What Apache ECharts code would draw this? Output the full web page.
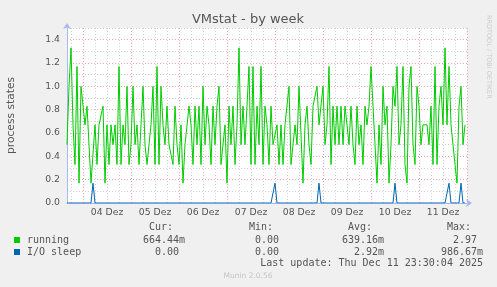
<!DOCTYPE html>
<html><head><meta charset="utf-8">
<script src="https://cdn.jsdelivr.net/npm/echarts@6/dist/echarts.min.js"></script>
<style>html,body{margin:0;padding:0;background:#f0f0f0}#c{width:497px;height:287px}</style>
</head><body><div id="c"></div>
<script>
// ---- data ----
const chartTitle = 'VMstat - by week';
const yAxisName = 'process states';
const monthName = 'Dez';
const startDay = 3;      // Dec 3
const startHour = 16;    // 16:00
const hourCount = 201;   // hourly slots to Dec 12 00:00
// running (hourly)
const running = [
  0.5, 1.0, 1.33, 0.67, 0.33, 1.17, 0.17, 1.0, 1.0, 0.67,
  0.83, 0.83, 0.17, 0.17, 0.67, 0.33, 0.67, 0.67, 0.83, 0.17,
  0.67, 0.33, 0.67, 0.5, 0.67, 0.33, 1.17, 0.33, 0.67, 0.5,
  1.0, 0.33, 0.5, 1.0, 0.5, 0.67, 0.33, 0.67, 1.0, 0.5,
  0.33, 0.5, 0.67, 1.0, 0.33, 1.17, 0.33, 1.0, 0.67, 0.5,
  0.83, 0.5, 0.5, 0.33, 0.83, 0.5, 0.33, 0.67, 0.17, 0.5,
  0.5, 0.83, 0.67, 0.33, 0.83, 0.5, 0.83, 0.33, 1.0, 0.5,
  0.83, 0.67, 0.33, 0.83, 0.5, 0.83, 1.0, 0.33, 0.5, 0.67,
  0.17, 0.83, 0.5, 0.83, 0.33, 0.67, 1.33, 0.5, 0.83, 0.5,
  0.83, 1.17, 0.33, 1.17, 0.33, 0.83, 0.5, 1.17, 0.33, 0.83,
  0.67, 0.33, 0.83, 0.5, 0.5, 0.67, 0.33, 0.67, 0.33, 0.67,
  0.67, 1.0, 0.33, 0.33, 0.67, 0.5, 1.0, 1.0, 0.17, 0.67,
  0.83, 0.5, 0.33, 0.83, 0.83, 1.0, 0.67, 0.67, 1.0, 0.5,
  0.67, 1.17, 0.33, 0.83, 0.5, 0.83, 0.5, 0.83, 0.5, 0.83,
  0.67, 0.5, 0.83, 0.5, 0.33, 0.83, 0.5, 0.67, 0.33, 0.83,
  0.67, 0.83, 1.17, 0.83, 0.5, 0.17, 0.67, 0.33, 1.0, 0.67,
  0.83, 0.17, 0.5, 1.0, 0.83, 1.17, 0.5, 0.67, 1.17, 0.33,
  0.17, 1.0, 1.17, 0.5, 0.33, 1.0, 0.83, 0.5, 0.67, 0.67,
  0.67, 0.5, 0.83, 0.33, 1.17, 0.33, 0.83, 1.0, 0.67, 1.33,
  0.67, 1.17, 0.67, 0.5, 0.33, 0.17, 0.83, 1.0, 0.5, 0.67
];
// I/O sleep: zero except short spikes
const ioSpikeSlots = [13, 104, 126, 164, 191, 197];
const ioSpikeValues = [0.17, 0.17, 0.17, 0.17, 0.17, 0.17];
const yMin = 0, yMax = 1.5, yStep = 0.1;
const seriesNames = ['running', 'I/O sleep'];
const seriesColors = ['#00cc00', '#0066b3'];
const statHeaders = ['Cur:', 'Min:', 'Avg:', 'Max:'];
const statCur = ['664.44m', '  0.00 '];
const statMin = ['  0.00 ', '  0.00 '];
const statAvg = ['639.16m', '  2.92m'];
const statMax = ['  2.97 ', '986.67m'];
const lastUpdate = 'Last update: Thu Dec 11 23:30:04 2025';
const footer = 'Munin 2.0.56';
const sideText = 'RRDTOOL / TOBI OETIKER';

// ---- build ----
const categories = [];
const slotHour = [];
for (let i = 0; i < hourCount; i++) {
  const t = startHour + i;
  const d = startDay + Math.floor(t / 24);
  const h = t % 24;
  slotHour.push(h);
  categories.push(String(d).padStart(2, '0') + ' ' + monthName + ' ' + String(h).padStart(2, '0') + ':00');
}
const ioSleep = running.map(() => 0);
ioSpikeSlots.forEach((s, k) => { ioSleep[s] = ioSpikeValues[k]; });

const RED = '#f4a6a6', GRAY = '#d0d0d0', AXIS = '#a9b9ec', TXT = '#555';
const mono = '"DejaVu Sans Mono", monospace';
const sans = '"DejaVu Sans", sans-serif';

const chart = echarts.init(document.getElementById('c'), null, {renderer: 'canvas'});

const colX = [143, 243, 342, 441];
const headX = [149, 249, 348, 447];
const rowY = [240, 252];
const g = [];
g.push({type: 'text', x: 248, y: 20, style: {text: chartTitle, font: '13px ' + sans, fill: TXT, align: 'center', verticalAlign: 'middle'}});
statHeaders.forEach((h, k) => g.push({type: 'text', x: headX[k], y: 227, style: {text: h, font: '10px ' + mono, fill: TXT, align: 'left', verticalAlign: 'middle'}}));
const stats = [statCur, statMin, statAvg, statMax];
seriesNames.forEach((n, r) => {
  g.push({type: 'rect', shape: {x: 14, y: rowY[r] - 3, width: 6, height: 6}, style: {fill: seriesColors[r]}});
  g.push({type: 'text', x: 27, y: rowY[r], style: {text: n, font: '10px ' + mono, fill: TXT, align: 'left', verticalAlign: 'middle'}});
  stats.forEach((col, k) => g.push({type: 'text', x: colX[k], y: rowY[r], style: {text: col[r], font: '10px ' + mono, fill: TXT, align: 'left', verticalAlign: 'middle'}}));
});
g.push({type: 'text', x: 483, y: 263, style: {text: lastUpdate, font: '10px ' + mono, fill: TXT, align: 'right', verticalAlign: 'middle'}});
g.push({type: 'text', x: 248, y: 276, style: {text: footer, font: '7.5px ' + sans, fill: '#c4c4c4', align: 'center', verticalAlign: 'middle'}});
g.push({type: 'text', x: 489, y: 15, rotation: -Math.PI / 2, style: {text: sideText, font: '6.5px ' + sans, fill: '#cccccc', align: 'left', verticalAlign: 'middle'}});

chart.setOption({
  animation: false,
  backgroundColor: '#f0f0f0',
  graphic: g,
  grid: {left: 67, right: 30, top: 28, bottom: 84, show: true, backgroundColor: '#ffffff', borderWidth: 0,
         containLabel: false, outerBoundsMode: 'none'},
  xAxis: [{
    type: 'category', data: categories, boundaryGap: false,
    axisLine: {show: true, lineStyle: {color: AXIS, width: 1}, symbol: ['none', 'arrow'], symbolSize: [6, 6], symbolOffset: [0, 5]},
    axisTick: {show: false},
    axisLabel: {interval: (i) => slotHour[i] === 12, formatter: (v) => v.slice(0, 6), color: TXT, fontFamily: sans, fontSize: 9.3, margin: 5},
    splitLine: {show: true, interval: (i) => slotHour[i] === 0, lineStyle: {color: RED, type: [1, 2], width: 1}}
  }, {
    type: 'category', data: categories, boundaryGap: false, position: 'bottom',
    axisLine: {show: false}, axisTick: {show: false}, axisLabel: {show: false},
    splitLine: {show: true, interval: (i) => slotHour[i] % 6 === 0 && slotHour[i] !== 0, lineStyle: {color: GRAY, type: [1, 2], width: 1}}
  }],
  yAxis: {
    type: 'value', min: yMin, max: yMax, interval: yStep,
    name: yAxisName, nameLocation: 'middle', nameGap: 50, nameRotate: 90,
    nameTextStyle: {color: TXT, fontFamily: sans, fontSize: 10.7},
    axisLine: {show: true, lineStyle: {color: AXIS, width: 1}, symbol: ['none', 'arrow'], symbolSize: [6, 6], symbolOffset: [0, 5]},
    axisTick: {show: false},
    axisLabel: {color: TXT, fontFamily: sans, fontSize: 9.3, margin: 7,
      formatter: (v) => (Math.round(v * 10) % 2 === 0 ? v.toFixed(1) : '')},
    splitLine: {show: true, lineStyle: {color: [RED, GRAY], type: [1, 2], width: 1}}
  },
  series: [{
    name: seriesNames[0], type: 'line', data: running, showSymbol: false, symbol: 'none',
    lineStyle: {color: seriesColors[0], width: 1}, itemStyle: {color: seriesColors[0]}, z: 3
  }, {
    name: seriesNames[1], type: 'line', data: ioSleep, showSymbol: false, symbol: 'none',
    lineStyle: {color: seriesColors[1], width: 1}, itemStyle: {color: seriesColors[1]}, z: 4
  }]
});
</script>
</body></html>
